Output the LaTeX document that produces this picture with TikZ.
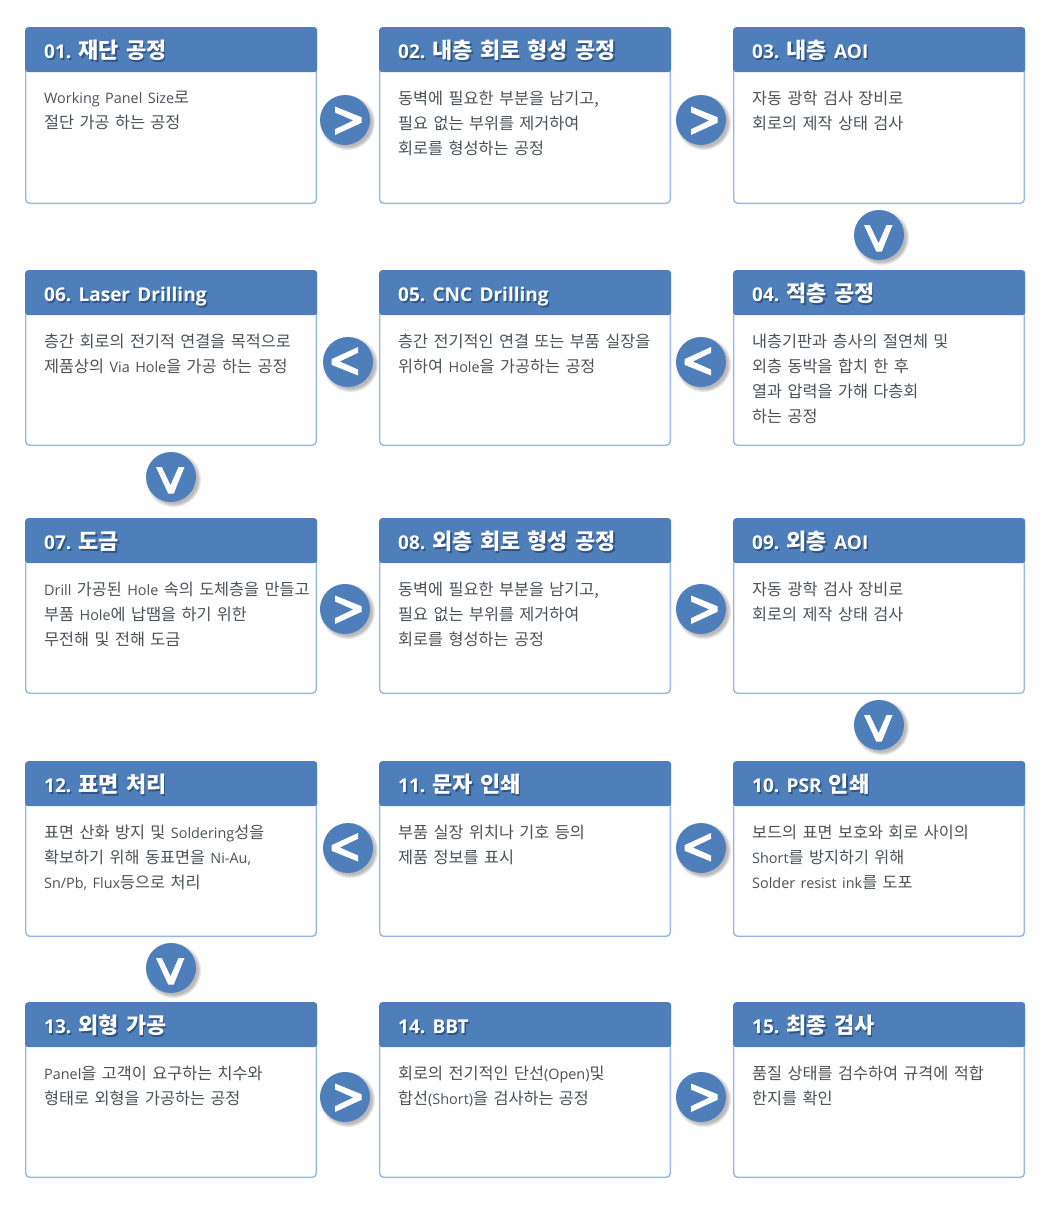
\documentclass[tikz,border=0pt]{standalone}
\usepackage{fontspec}
\setmainfont{Noto Sans CJK KR}
\newfontfamily\latinfont{Open Sans}
\definecolor{hdrblue}{HTML}{4F7FBB}
\definecolor{hdrshade}{HTML}{2F5585}
\definecolor{edgeblue}{HTML}{9AB7DD}
\definecolor{bodygray}{HTML}{4A5258}
\newcommand{\en}[1]{{\latinfont\fontsize{14.4}{25}\selectfont #1}}
\newcommand{\he}[1]{{\latinfont\bfseries\fontsize{19}{24}\selectfont #1}}
\usetikzlibrary{shadows}
\tikzset{
  x=1pt,y=-1pt,
  cardframe/.style={draw=edgeblue,line width=1.4pt,fill=white,rounded corners=4pt,anchor=north west,inner sep=0pt,minimum width=290.6pt},
  cardhead/.style={fill=hdrblue,rounded corners=3pt,anchor=north west,inner ysep=0pt,inner xsep=19pt,minimum height=45pt,text width=254pt,align=left,text=white,text height=21.5pt,text depth=3.5pt,font=\bfseries\fontsize{21.9}{24}\selectfont\frenchspacing},
  cardtext/.style={anchor=north west,inner sep=0pt,text width=272pt,align=left,text=bodygray,font=\fontsize{16.3}{25}\selectfont\frenchspacing},
  disc/.style={circle,fill=hdrblue,minimum size=50pt,inner sep=0pt,circular drop shadow={shadow xshift=2pt,shadow yshift=-2pt,shadow scale=1.12,opacity=.55}}
}
\newcommand{\shadowed}[1]{\makebox[0pt][l]{\hspace{1.5pt}\raisebox{-1.5pt}{\textcolor{hdrshade}{#1}}}#1}
\newcommand{\card}[7]{%
  \node[cardframe,minimum height=#4pt-0.4pt] (f#1) at (#2,#3) {};
  \node[cardhead] (h#1) at (f#1.north west) {\shadowed{#5}};
  \node[cardtext] (t#1) at ([xshift=19pt,yshift=-#6pt]f#1.north west) {#7};
}
\newcommand{\arrowdisc}[4]{%
  \node[disc] (a#1) at (#2,#3) {};
  \fill[white,shift={(a#1.center)},rotate=#4] (-10,-13.5) -- (16.5,-2.8) -- (16.5,2.8) -- (-10,15) -- (-10,9.2) -- (8.3,0.5) -- (-10,-7.5) -- cycle;
}
\begin{document}
\begin{tikzpicture}
\useasboundingbox (0,0) rectangle (1051,1210);
\fill[white] (0,0) rectangle (1051,1210);
\card{01}{25}{27}{176}{\he{01.} 재단 공정}{63.7}{\en{Working Panel Size}로\\절단 가공 하는 공정}
\card{02}{379}{27}{176}{\he{02.} 내층 회로 형성 공정}{63.7}{동벽에 필요한 부분을 남기고,\\필요 없는 부위를 제거하여\\회로를 형성하는 공정}
\card{03}{733}{27}{176}{\he{03.} 내층 \he{AOI}}{63.7}{자동 광학 검사 장비로\\회로의 제작 상태 검사}
\card{06}{25}{270}{175}{\he{06. Laser Drilling}}{63.7}{층간 회로의 전기적 연결을 목적으로\\제품상의 \en{Via Hole}을 가공 하는 공정}
\card{05}{379}{270}{175}{\he{05. CNC Drilling}}{63.7}{층간 전기적인 연결 또는 부품 실장을\\위하여 \en{Hole}을 가공하는 공정}
\card{04}{733}{270}{175}{\he{04.} 적층 공정}{63.7}{내층기판과 층사의 절연체 및\\외층 동박을 합치 한 후\\열과 압력을 가해 다층회\\하는 공정}
\card{07}{25}{518}{175}{\he{07.} 도금}{63.7}{\en{Drill} 가공된 \en{Hole} 속의 도체층을 만들고\\부품 \en{Hole}에 납땜을 하기 위한\\무전해 및 전해 도금}
\card{08}{379}{518}{175}{\he{08.} 외층 회로 형성 공정}{63.7}{동벽에 필요한 부분을 남기고,\\필요 없는 부위를 제거하여\\회로를 형성하는 공정}
\card{09}{733}{518}{175}{\he{09.} 외층 \he{AOI}}{63.7}{자동 광학 검사 장비로\\회로의 제작 상태 검사}
\card{12}{25}{761}{175}{\he{12.} 표면 처리}{63.7}{표면 산화 방지 및 \en{Soldering}성을\\확보하기 위해 동표면을 \en{Ni-Au,}\\\en{Sn/Pb, Flux}등으로 처리}
\card{11}{379}{761}{175}{\he{11.} 문자 인쇄}{63.7}{부품 실장 위치나 기호 등의\\제품 정보를 표시}
\card{10}{733}{761}{175}{\he{10. PSR} 인쇄}{63.7}{보드의 표면 보호와 회로 사이의\\\en{Short}를 방지하기 위해\\\en{Solder resist ink}를 도포}
\card{13}{25}{1002}{175}{\he{13.} 외형 가공}{63.7}{\en{Panel}을 고객이 요구하는 치수와\\형태로 외형을 가공하는 공정}
\card{14}{379}{1002}{175}{\he{14. BBT}}{63.7}{회로의 전기적인 단선\en{(Open)}및\\합선\en{(Short)}을 검사하는 공정}
\card{15}{733}{1002}{175}{\he{15.} 최종 검사}{63.7}{품질 상태를 검수하여 규격에 적합\\한지를 확인}
\arrowdisc{1}{345}{120}{0}
\arrowdisc{2}{701}{120}{0}
\arrowdisc{3}{879}{235}{-90}
\arrowdisc{4}{701}{362}{180}
\arrowdisc{5}{348}{362}{180}
\arrowdisc{6}{171}{477}{-90}
\arrowdisc{7}{345}{609}{0}
\arrowdisc{8}{701}{609}{0}
\arrowdisc{9}{879}{725}{-90}
\arrowdisc{10}{701}{848}{180}
\arrowdisc{11}{348}{848}{180}
\arrowdisc{12}{171}{968}{-90}
\arrowdisc{13}{345}{1097}{0}
\arrowdisc{14}{701}{1097}{0}
\end{tikzpicture}
\end{document}
